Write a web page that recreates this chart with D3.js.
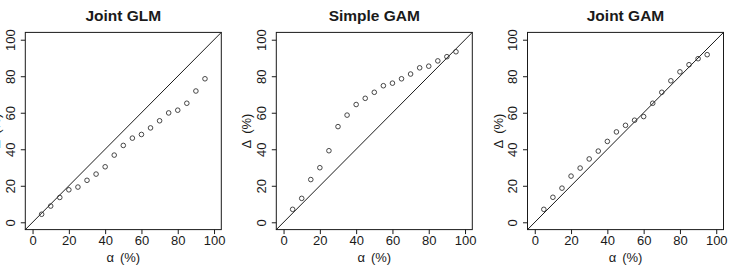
<!DOCTYPE html>
<html>
<head>
<meta charset="utf-8">
<script src="https://cdn.jsdelivr.net/npm/d3@7"></script>
<style>
  body { margin: 0; background: #fff; }
  text { font-family: "Liberation Sans", Arial, sans-serif; fill: #1a1a1a; }
</style>
</head>
<body>
<div id="chart"></div>
<script>
// nominal levels (x) for every panel
var alpha = [5, 10, 15, 20, 25, 30, 35, 40, 45, 50, 55, 60, 65, 70, 75, 80, 85, 90, 95];
var jointGLM = [4.4, 8.9, 13.6, 17.8, 19.3, 23.0, 26.4, 30.4, 36.8, 42.1, 46.1, 48.1, 51.7, 55.6, 59.9, 61.4, 65.2, 71.9, 78.6];
var simpleGAM = [7.1, 13.1, 23.4, 29.9, 39.2, 52.4, 58.7, 64.5, 67.9, 71.2, 74.8, 76.2, 78.6, 81.2, 84.6, 85.5, 88.4, 90.7, 93.4];
var jointGAM = [7.1, 13.7, 18.7, 25.3, 29.7, 34.7, 39.0, 44.3, 49.5, 53.1, 55.9, 57.9, 65.2, 71.2, 77.5, 82.4, 86.3, 89.6, 91.8];
var panelTitles = ["Joint GLM", "Simple GAM", "Joint GAM"];
var panelSeries = [jointGLM, simpleGAM, jointGAM];
var tickValues = [0, 20, 40, 60, 80, 100];
var xLabel = "α";
var yLabel = "Δ";
var unitLabel = "(%)";

var width = 729;
var height = 267;
//plot regions of the three panels
var plotLefts = [25.3, 276.3, 527.5];
var plotTop = 32.4;
var plotW = 196;
var plotH = 197.2;

var svg = d3.select('#chart')
      .append('svg')
      .attr('width', width)
      .attr('height', height);

svg.append('rect')
      .attr('width', width)
      .attr('height', height)
      .attr('fill', '#fff');

//same scales for all panels (R style 4% padding)
var x = d3.scaleLinear().domain([-4, 104]).range([0, plotW]);
var y = d3.scaleLinear().domain([-4, 104]).range([plotH, 0]);

panelSeries.forEach(function (series, i) {
      var g = svg.append('g')
            .attr('transform', 'translate(' + plotLefts[i] + ',' + plotTop + ')');

      //title
      g.append('text')
            .attr('x', plotW / 2)
            .attr('y', 20.5 - plotTop)
            .attr('text-anchor', 'middle')
            .style('font-size', '15.5px')
            .style('font-weight', 'bold')
            .text(panelTitles[i]);

      //x axis
      var xAxis = g.append('g')
            .attr('transform', 'translate(0,' + plotH + ')')
            .call(d3.axisBottom(x).tickValues(tickValues).tickSize(4.5).tickPadding(2).tickSizeOuter(0));
      xAxis.select('.domain').remove();
      xAxis.selectAll('line').attr('stroke', '#1a1a1a');
      xAxis.selectAll('text').style('font-size', '13px').attr('fill', '#1a1a1a');

      //y axis with rotated labels
      var yAxis = g.append('g')
            .call(d3.axisLeft(y).tickValues(tickValues).tickSize(4.5).tickSizeOuter(0));
      yAxis.select('.domain').remove();
      yAxis.selectAll('line').attr('stroke', '#1a1a1a');
      yAxis.selectAll('text')
            .attr('x', null)
            .attr('dy', null)
            .attr('text-anchor', 'middle')
            .attr('transform', 'translate(-10.5,0) rotate(-90)')
            .style('font-size', '13px')
            .attr('fill', '#1a1a1a');

      //axis titles
      var xt = g.append('text')
            .attr('x', plotW / 2)
            .attr('y', 262 - plotTop)
            .attr('text-anchor', 'middle')
            .style('font-size', '13px');
      xt.append('tspan').text(xLabel);
      xt.append('tspan').attr('dx', 6).text(unitLabel);

      var yt = g.append('text')
            .attr('transform', 'translate(-25,' + plotH / 2 + ') rotate(-90)')
            .attr('text-anchor', 'middle')
            .style('font-size', '13px');
      yt.append('tspan').text(yLabel);
      yt.append('tspan').attr('dx', 6).text(unitLabel);

      //1:1 reference line
      g.append('line')
            .attr('x1', x(-4)).attr('y1', y(-4))
            .attr('x2', x(104)).attr('y2', y(104))
            .attr('stroke', '#1a1a1a')
            .attr('stroke-width', 1);

      //points
      g.selectAll('circle')
            .data(alpha)
            .enter().append('circle')
            .attr('cx', function (d) { return x(d); })
            .attr('cy', function (d, j) { return y(series[j]); })
            .attr('r', 2.3)
            .attr('fill', 'none')
            .attr('stroke', '#333')
            .attr('stroke-width', 0.9);

      //box
      g.append('rect')
            .attr('width', plotW)
            .attr('height', plotH)
            .attr('fill', 'none')
            .attr('stroke', '#1a1a1a')
            .attr('stroke-width', 1);
});
</script>
</body>
</html>
